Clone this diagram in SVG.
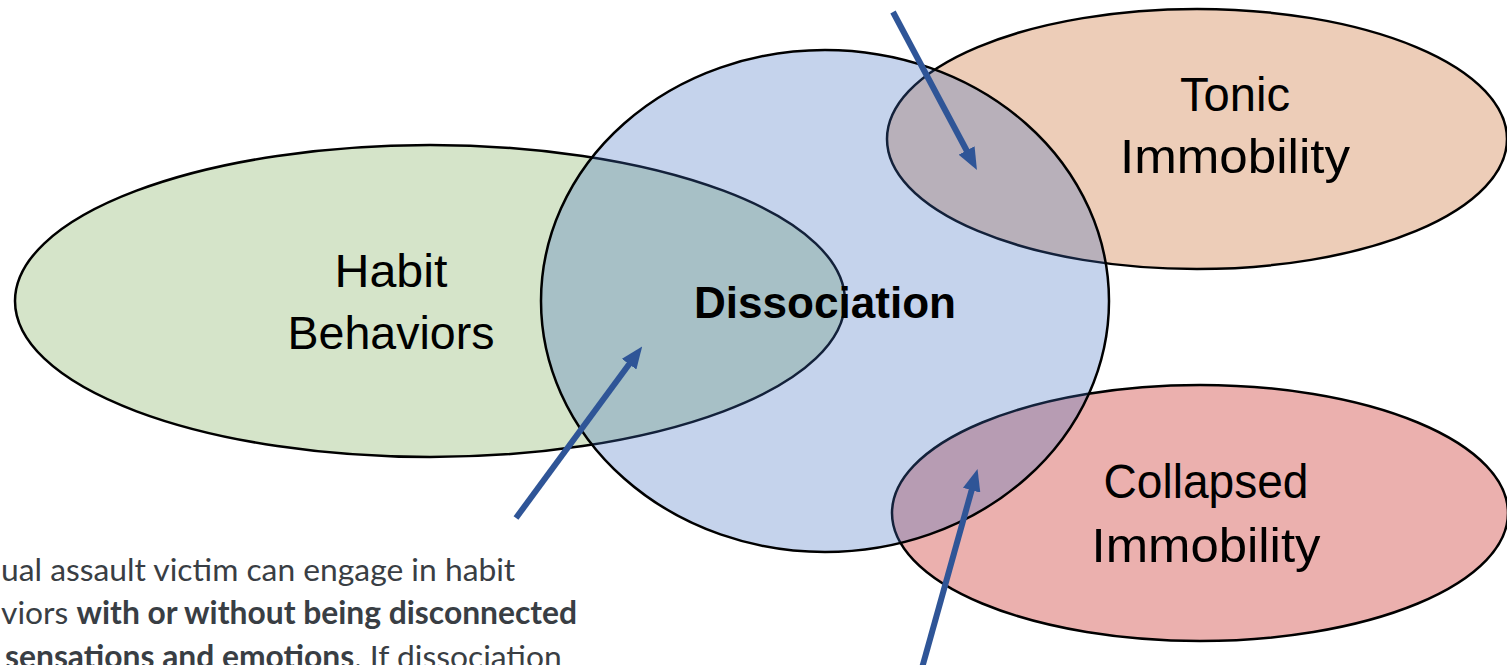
<svg xmlns="http://www.w3.org/2000/svg" width="1507" height="665" viewBox="0 0 1507 665">
<style>
.shape{stroke:#000;stroke-width:2.5}
.lbl{font-family:"Liberation Sans",Arial,sans-serif;fill:#000;text-anchor:middle}
.body{font-family:Lato,"Liberation Sans",sans-serif;font-size:31.8px;fill:#393e44}
.arrow{stroke:#2f5597;stroke-width:6;fill:none;marker-end:url(#ah)}
</style>
<defs>
<marker id="ah" markerUnits="userSpaceOnUse" markerWidth="22" markerHeight="18" refX="4" refY="9" orient="auto">
<path d="M0,0 L22,9 L0,18 z" fill="#2f5597"/>
</marker>
</defs>
<rect width="1507" height="665" fill="#fff"/>
<g id="habit">
<ellipse class="shape" cx="430" cy="301" rx="415" ry="156" fill="#d5e4c9"/>
</g>
<g id="tonic">
<ellipse class="shape" cx="1197" cy="139" rx="310" ry="130" fill="#edcdb8"/>
</g>
<g id="collapsed">
<ellipse class="shape" cx="1200" cy="513" rx="308" ry="128" fill="#ebb0ae"/>
</g>
<g id="dissociation">
<ellipse class="shape" cx="825" cy="301" rx="284" ry="251" fill="#3e6cc0" fill-opacity="0.3"/>
</g>
<g id="labels">
<text class="lbl" x="391" y="287" font-size="46" textLength="113" lengthAdjust="spacingAndGlyphs">Habit</text>
<text class="lbl" x="391" y="349" font-size="46" textLength="207" lengthAdjust="spacingAndGlyphs">Behaviors</text>
<text class="lbl" x="825" y="318" font-size="45" font-weight="bold" textLength="262" lengthAdjust="spacingAndGlyphs">Dissociation</text>
<text class="lbl" x="1235" y="111" font-size="48" textLength="110" lengthAdjust="spacingAndGlyphs">Tonic</text>
<text class="lbl" x="1235" y="173" font-size="48" textLength="230" lengthAdjust="spacingAndGlyphs">Immobility</text>
<text class="lbl" x="1206" y="498" font-size="48" textLength="205" lengthAdjust="spacingAndGlyphs">Collapsed</text>
<text class="lbl" x="1206" y="562" font-size="48" textLength="229" lengthAdjust="spacingAndGlyphs">Immobility</text>
</g>
<g id="connectors">
<line class="arrow" x1="893" y1="12" x2="968.5" y2="154"/>
<line class="arrow" x1="516" y1="518" x2="631.5" y2="361"/>
<line class="arrow" x1="922" y1="668" x2="972.7" y2="486.4"/>
</g>
<g id="caption">
<text class="body" x="1" y="581">ual assault victim can engage in habit</text>
<text class="body" x="1" y="624">viors <tspan font-weight="bold">with or without being disconnected</tspan></text>
<text class="body" x="5" y="668"><tspan font-weight="bold">sensations and emotions</tspan>. If dissociation</text>
</g>
</svg>
